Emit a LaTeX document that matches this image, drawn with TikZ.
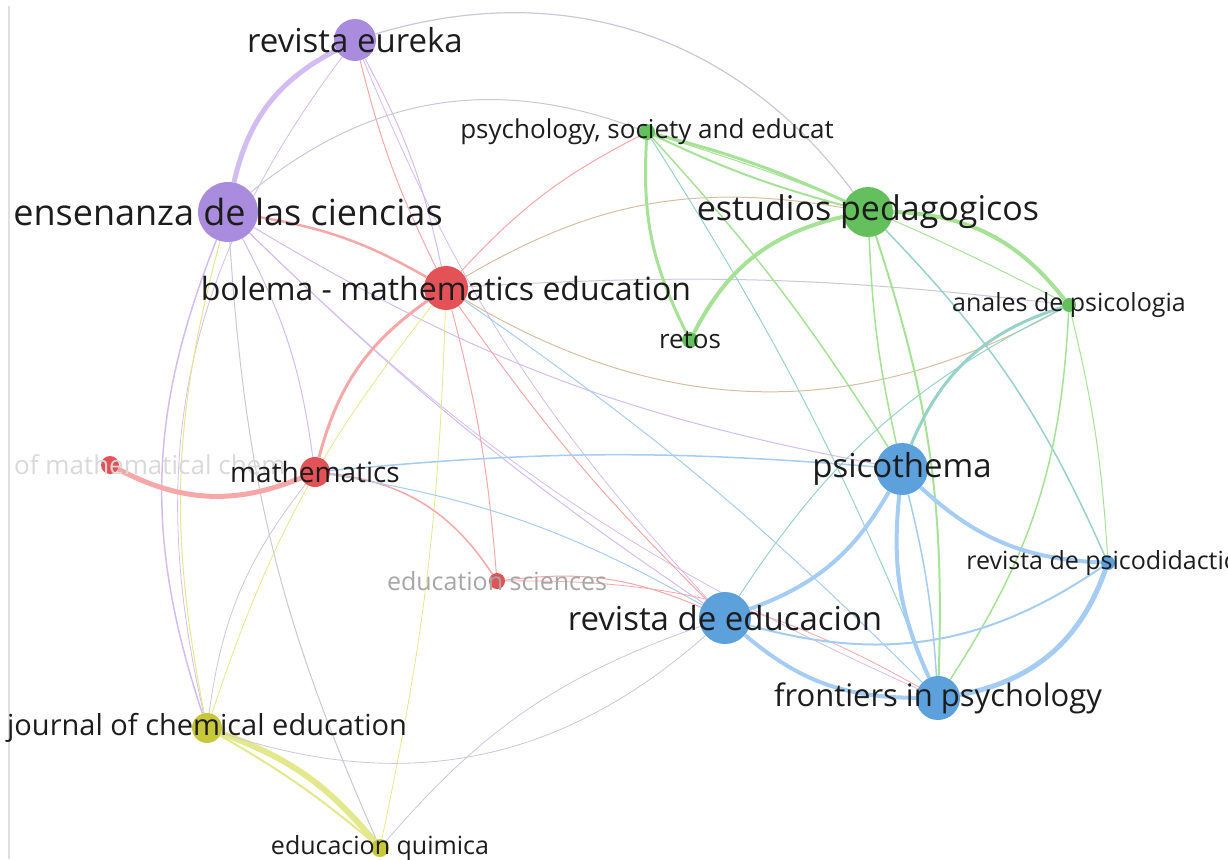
\documentclass[tikz,border=0pt]{standalone}
\usepackage{fontspec}
\setmainfont{Open Sans}
\usetikzlibrary{backgrounds}
\definecolor{nPurple}{RGB}{170,140,222}
\definecolor{nRed}{RGB}{226,82,86}
\definecolor{nGreen}{RGB}{100,192,92}
\definecolor{nBlue}{RGB}{92,160,220}
\definecolor{nYellow}{RGB}{198,200,58}
\definecolor{ePurple}{RGB}{210,188,242}
\definecolor{eRed}{RGB}{246,168,168}
\definecolor{eGreen}{RGB}{165,226,150}
\definecolor{eBlue}{RGB}{165,204,242}
\definecolor{eYellow}{RGB}{228,232,140}
\definecolor{eTeal}{RGB}{150,210,200}
\definecolor{eMix}{RGB}{200,200,215}
\definecolor{eBrown}{RGB}{215,190,160}
\definecolor{labtext}{RGB}{28,28,28}
\tikzset{
    jnode/.style={circle, fill=#1, draw=none, inner sep=0pt}, % one journal
    lab/.style={font=\fontsize{#1}{#1}\selectfont, text=labtext, inner sep=0pt},
    pe/.style={draw=ePurple, line width=#1},
    re/.style={draw=eRed, line width=#1},
    ge/.style={draw=eGreen, line width=#1},
    be/.style={draw=eBlue, line width=#1},
    ye/.style={draw=eYellow, line width=#1},
    te/.style={draw=eTeal, line width=#1},
    me/.style={draw=eMix, line width=#1},
    ne/.style={draw=eBrown, line width=#1},
}

\begin{document}
\begin{tikzpicture}[x=1pt, y=-1pt]
\useasboundingbox (0,0) rectangle (1228,859);
\draw[gray!25, line width=1.5] (9,6) -- (9,859);

% purple cluster
\node[jnode=nPurple, minimum size=42, label={[lab=33]center:revista eureka}] (eureka) at (355,40) {};
\node[jnode=nPurple, minimum size=60, label={[lab=36]center:ensenanza de las ciencias}] (ensenanza) at (228,212) {};
% red cluster
\node[jnode=nRed, minimum size=44, label={[lab=32]center:bolema - mathematics education}] (bolema) at (446,288) {};
\node[jnode=nRed, minimum size=18] (mathchem) at (110,465) {};
\node[lab=26, text=gray!30, anchor=west] (mathchem-l) at (14,465) {of mathematical chem};
\node[jnode=nRed, minimum size=30, label={[lab=28]center:mathematics}] (mathematics) at (315,472) {};
\node[jnode=nRed, minimum size=16, label={[lab=25, text=gray!70]center:education sciences}] (educsci) at (497,581) {};
% green cluster
\node[jnode=nGreen, minimum size=16, label={[lab=26]center:psychology, society and educat}] (psyso) at (647,132) {};
\node[jnode=nGreen, minimum size=50, label={[lab=34]center:estudios pedagogicos}] (estudios) at (868,212) {};
\node[jnode=nGreen, minimum size=16, label={[lab=26]center:retos}] (retos) at (690,340) {};
\node[jnode=nGreen, minimum size=14, label={[lab=25]center:anales de psicologia}] (anales) at (1069,305) {};
% blue cluster
\node[jnode=nBlue, minimum size=52, label={[lab=33]center:psicothema}] (psicothema) at (902,469) {};
\node[jnode=nBlue, minimum size=14, label={[lab=25]center:revista de psicodidactica}] (revpsico) at (1108,563) {};
\node[jnode=nBlue, minimum size=52, label={[lab=33]center:revista de educacion}] (reveduc) at (725,618) {};
\node[jnode=nBlue, minimum size=44, label={[lab=31]center:frontiers in psychology}] (frontiers) at (938,698) {};
% yellow cluster
\node[jnode=nYellow, minimum size=30, label={[lab=29]center:journal of chemical education}] (jce) at (207,728) {};
\node[jnode=nYellow, minimum size=18, label={[lab=25]center:educacion quimica}] (quimica) at (380,848) {};

\begin{scope}[on background layer]
% purple links
\draw[pe=5] (eureka) to[bend right=25] (ensenanza);
\draw[me=1.2] (eureka) to[bend left=35] (estudios);
\draw[pe=1] (eureka) to[bend left=8] (bolema);
\draw[re=1] (eureka) to[bend right=6] (bolema);
\draw[pe=0.8] (eureka) to[bend right=10] (reveduc);
\draw[pe=0.8] (eureka) to[bend right=25] (jce);
\draw[re=2.5] (ensenanza) to[bend left=10] (bolema);
\draw[me=1] (ensenanza) to[bend left=30] (psyso);
\draw[pe=1] (ensenanza) to[bend right=10] (psicothema);
\draw[pe=1] (ensenanza) to[bend right=5] (reveduc);
\draw[pe=0.8] (ensenanza) to[bend right=10] (frontiers);
\draw[pe=1] (ensenanza) to[bend left=10] (mathematics);
\draw[pe=1.5] (ensenanza) to[bend right=20] (jce);
\draw[ye=1] (ensenanza) to[bend right=13] (jce);
\draw[me=1] (ensenanza) to[bend right=10] (quimica);
% red links
\draw[re=3] (bolema) to[bend right=20] (mathematics);
\draw[ne=1] (bolema) to[bend left=20] (estudios);
\draw[ne=1] (bolema) to[bend right=30] (anales);
\draw[me=1] (bolema) to[bend left=5] (anales);
\draw[re=1] (bolema) to[bend left=10] (psyso);
\draw[re=1] (bolema) to[bend left=5] (educsci);
\draw[be=1] (bolema) to[bend left=5] (frontiers);
\draw[re=1] (bolema) to[bend right=5] (reveduc);
\draw[ye=0.8] (bolema) to[bend left=5] (quimica);
\draw[re=5] (mathchem) to[bend right=25] (mathematics);
\draw[re=1.5] (mathematics) to[bend left=25] (educsci);
\draw[be=1.5] (mathematics) to[bend left=5] (psicothema);
\draw[me=0.8] (mathematics) to[bend right=15] (jce);
\draw[be=1] (mathematics) to[bend left=10] (reveduc);
\draw[re=1] (educsci) to[bend left=15] (reveduc);
\draw[re=0.8] (educsci) to[bend left=15] (frontiers);
% green links
\draw[ge=3] (psyso) to[bend left=5] (estudios);
\draw[ge=2] (psyso) to[bend right=5] (estudios);
\draw[ge=3] (psyso) to[bend right=15] (retos);
\draw[ge=1.5] (psyso) to[bend left=5] (psicothema);
\draw[te=1] (psyso) to[bend left=5] (frontiers);
\draw[ge=1] (psyso) to[bend left=5] (anales);
\draw[ge=4] (estudios) to[bend right=25] (retos);
\draw[ge=4] (estudios) to[bend left=25] (anales);
\draw[ge=1.5] (estudios) to[bend right=5] (psicothema);
\draw[ge=2] (estudios) to[bend left=10] (frontiers);
\draw[te=1.5] (estudios) to[bend left=10] (revpsico);
\draw[te=3] (anales) to[bend right=25] (psicothema);
\draw[ge=1.5] (anales) to[bend left=15] (frontiers);
\draw[ge=1] (anales) to[bend left=5] (revpsico);
\draw[te=1] (anales) to[bend right=15] (reveduc);
% blue links
\draw[be=4] (psicothema) to[bend left=20] (reveduc);
\draw[be=4] (psicothema) to[bend right=15] (frontiers);
\draw[be=1.5] (psicothema) to[bend left=5] (frontiers);
\draw[be=4] (psicothema) to[bend right=20] (revpsico);
\draw[be=4] (reveduc) to[bend right=20] (frontiers);
\draw[be=2] (reveduc) to[bend right=25] (revpsico);
\draw[be=5] (frontiers) to[bend right=30] (revpsico);
% yellow links
\draw[ye=6] (jce) to[bend left=15] (quimica);
\draw[ye=2] (jce) to[bend left=5] (quimica);
\draw[me=0.8] (jce) to[bend right=30] (reveduc);
\draw[me=0.8] (quimica) to[bend left=15] (reveduc);
\draw[ye=0.8] (jce) to[bend left=10] (bolema);
\end{scope}
\end{tikzpicture}
\end{document}
